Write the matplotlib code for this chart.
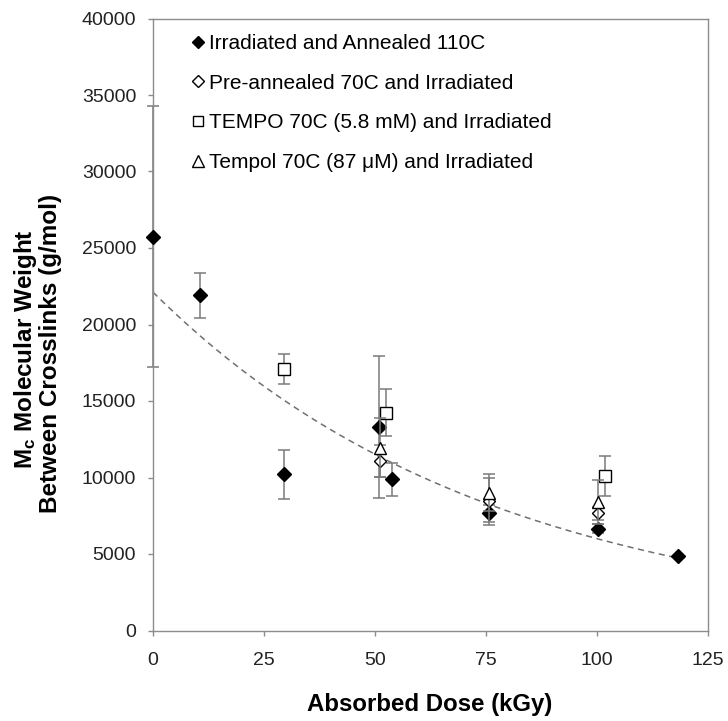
import numpy as np
import matplotlib
matplotlib.use("Agg")
import matplotlib.pyplot as plt
from matplotlib.lines import Line2D

plt.rcParams["font.family"] = ["Liberation Sans", "DejaVu Sans"]
plt.rcParams["mathtext.default"] = "regular"

# Irradiated and Annealed 110C (filled diamonds)
ann_dose = [0.0, 10.6, 29.5, 51.0, 53.9, 75.7, 100.2, 118.3]
ann_mc = [25750, 21900, 10200, 13330, 9870, 7650, 6650, 4840]
ann_err = [8560, 1480, 1580, 4640, 1070, 550, 300, 0]

# Pre-annealed 70C and Irradiated (open diamonds)
pre_dose = [51.2, 75.7, 100.2]
pre_mc = [11100, 8450, 7650]
pre_err = [1050, 1550, 400]

# TEMPO 70C (5.8 mM) and Irradiated (open squares)
tempo_dose = [29.5, 52.4, 101.8]
tempo_mc = [17060, 14230, 10085]
tempo_err = [980, 1550, 1300]

# Tempol 70C (87 uM) and Irradiated (open triangles)
tempol_dose = [51.2, 75.7, 100.2]
tempol_mc = [11960, 9000, 8390]
tempol_err = [1900, 1200, 1430]

labels = [
    "Irradiated and Annealed 110C",
    "Pre-annealed 70C and Irradiated",
    "TEMPO 70C (5.8 mM) and Irradiated",
    "Tempol 70C (87 \u03bcM) and Irradiated",
]

x_ticks = [0, 25, 50, 75, 100, 125]
y_ticks = [0, 5000, 10000, 15000, 20000, 25000, 30000, 35000, 40000]

W, H = 728, 721
fig = plt.figure(figsize=(W / 100, H / 100), dpi=100)
ax_l, ax_r, ax_t, ax_b = 153, 708, 18.5, 630.5
ax = fig.add_axes([ax_l / W, 1 - ax_b / H, (ax_r - ax_l) / W, (ax_b - ax_t) / H])

err_kw = dict(ecolor="#7a7a7a", elinewidth=1.1, capsize=4, capthick=1.1, linestyle="none")

series = [
    (ann_dose, ann_mc, ann_err, "D", 6.9, "black", 3),
    (pre_dose, pre_mc, pre_err, "D", 6.5, "white", 4),
    (tempo_dose, tempo_mc, tempo_err, "s", 8.3, "white", 5),
    (tempol_dose, tempol_mc, tempol_err, "^", 9.0, "white", 6),
]
for x, y, e, m, ms, fc, z in series:
    eb = ax.errorbar(x, y, yerr=e, fmt="none", zorder=z - 0.5, **err_kw)
    for art in eb.lines[1] + eb.lines[2]:
        art.set_clip_on(False)
    ax.plot(x, y, linestyle="none", marker=m, markersize=ms, markerfacecolor=fc,
            markeredgecolor="black", markeredgewidth=1.0, zorder=z, clip_on=False)

# Exponential trend line fitted to the annealed series
xa = np.array(ann_dose)
slope, intercept = np.polyfit(xa, np.log(np.array(ann_mc)), 1)
xf = np.linspace(xa.min(), xa.max(), 200)
ax.plot(xf, np.exp(intercept) * np.exp(slope * xf), linestyle=(0, (4, 3)),
        color="#707070", linewidth=1.1, zorder=2)

ax.set_xlim(0, 125)
ax.set_ylim(0, 40000)
ax.set_xticks(x_ticks)
ax.set_yticks(y_ticks)
ax.tick_params(axis="both", direction="out", length=3.6, width=1, color="#8c8c8c",
               labelsize=14, labelcolor="#222222")
ax.tick_params(axis="y", pad=8.5)
ax.tick_params(axis="x", pad=12)
for s in ax.spines.values():
    s.set_color("#8c8c8c")
    s.set_linewidth(1.0)

handles = [
    Line2D([], [], linestyle="none", marker="D", markersize=6.2, markerfacecolor="black",
           markeredgecolor="black"),
    Line2D([], [], linestyle="none", marker="D", markersize=6.0, markerfacecolor="white",
           markeredgecolor="black"),
    Line2D([], [], linestyle="none", marker="s", markersize=7.8, markerfacecolor="white",
           markeredgecolor="black"),
    Line2D([], [], linestyle="none", marker="^", markersize=8.6, markerfacecolor="white",
           markeredgecolor="black"),
]
ax.legend(handles, labels, loc="upper left",
          bbox_to_anchor=((193 - ax_l) / (ax_r - ax_l), (ax_b - 34) / (ax_b - ax_t)),
          frameon=False, fontsize=15, handlelength=0.5, handletextpad=0.25,
          labelspacing=0.99, borderpad=0, borderaxespad=0)

fig.text(430 / W, 1 - 705 / H, "Absorbed Dose (kGy)", ha="center", va="center",
         fontsize=17.3, fontweight="bold")
fig.text(26 / W, 1 - 349 / H, "M$_c$ Molecular Weight", ha="center", va="center",
         rotation=90, fontsize=17.5, fontweight="bold")
fig.text(51 / W, 1 - 353 / H, "Between Crosslinks (g/mol)", ha="center", va="center",
         rotation=90, fontsize=17.5, fontweight="bold")

fig.savefig("out.png", dpi=100)
